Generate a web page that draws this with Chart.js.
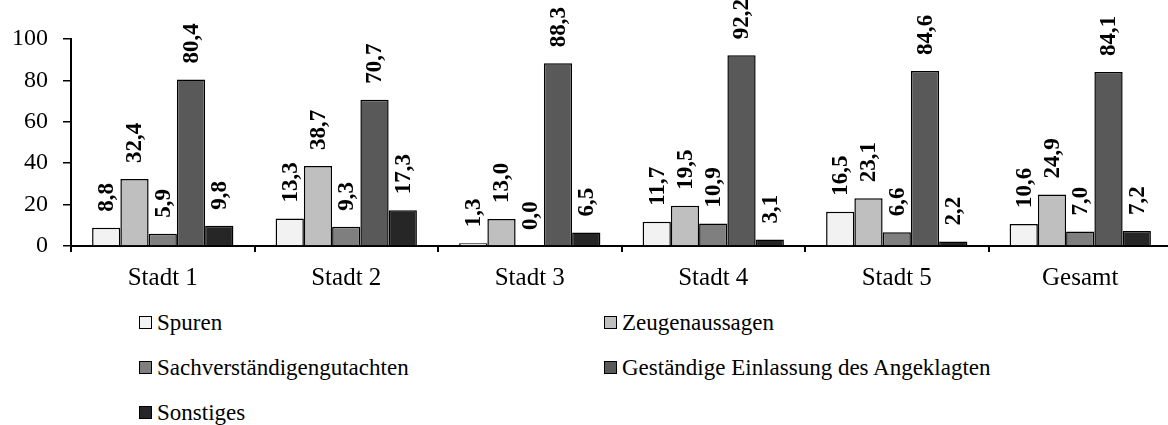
<!DOCTYPE html>
<html>
<head>
<meta charset="utf-8">
<script src="https://cdn.jsdelivr.net/npm/chart.js@4/dist/chart.umd.min.js"></script>
<style>
    html, body { margin: 0; padding: 0; background: #fff; overflow: hidden; }
    #wrap { position: relative; width: 1172px; height: 425px; }
    #chart { position: absolute; left: 0; top: 0; }
    .legend-item {
        position: absolute;
        display: flex;
        align-items: center;
        font-family: "Liberation Serif", "Times New Roman", serif;
        font-size: 23px;
        color: #000;
        white-space: nowrap;
        line-height: 1;
    }
    .legend-box {
        width: 11px;
        height: 11px;
        border: 1.5px solid #000;
        margin-right: 5px;
    }
</style>
</head>
<body>
<div id="wrap">
    <canvas id="chart" width="1172" height="290"></canvas>
    <div id="legend"></div>
</div>
<script>
const categories = ['Stadt 1', 'Stadt 2', 'Stadt 3', 'Stadt 4', 'Stadt 5', 'Gesamt'];

const spuren = [8.8, 13.3, 1.3, 11.7, 16.5, 10.6];
const zeugenaussagen = [32.4, 38.7, 13.0, 19.5, 23.1, 24.9];
const gutachten = [5.9, 9.3, 0.0, 10.9, 6.6, 7.0];
const einlassung = [80.4, 70.7, 88.3, 92.2, 84.6, 84.1];
const sonstiges = [9.8, 17.3, 6.5, 3.1, 2.2, 7.2];

const yTicks = [0, 20, 40, 60, 80, 100];

const serif = '"Liberation Serif", "Times New Roman", serif';

const series = [
    { label: 'Spuren', data: spuren, color: '#f2f2f2' },
    { label: 'Zeugenaussagen', data: zeugenaussagen, color: '#bfbfbf' },
    { label: 'Sachverständigengutachten', data: gutachten, color: '#7f7f7f' },
    { label: 'Geständige Einlassung des Angeklagten', data: einlassung, color: '#595959' },
    { label: 'Sonstiges', data: sonstiges, color: '#262626' }
];

// rotated value labels above each bar
const valueLabels = {
    id: 'valueLabels',
    afterDatasetsDraw(chart) {
        const ctx = chart.ctx;
        ctx.save();
        ctx.font = 'bold 23px ' + serif;
        ctx.fillStyle = '#000';
        ctx.textAlign = 'left';
        ctx.textBaseline = 'middle';
        chart.data.datasets.forEach((ds, i) => {
            chart.getDatasetMeta(i).data.forEach((bar, j) => {
                const text = ds.data[j].toFixed(1).replace('.', ',');
                ctx.save();
                ctx.translate(bar.x + 1, bar.y - 16);
                ctx.rotate(-Math.PI / 2);
                ctx.fillText(text, 0, 0);
                ctx.restore();
            });
        });
        ctx.restore();
    }
};

const chart = new Chart(document.getElementById('chart').getContext('2d'), {
    type: 'bar',
    data: {
        labels: categories,
        datasets: series.map(s => ({
            label: s.label,
            data: s.data,
            backgroundColor: s.color,
            borderColor: '#000',
            borderWidth: 1.5,
            categoryPercentage: 0.77,
            barPercentage: 1.0
        }))
    },
    options: {
        responsive: false,
        animation: false,
        devicePixelRatio: 1,
        layout: { padding: { top: 39, right: 0, bottom: 0, left: 0 } },
        plugins: {
            legend: { display: false },
            tooltip: { enabled: false }
        },
        scales: {
            x: {
                afterFit: scale => { scale.height = 44; },
                border: { color: '#000', width: 2 },
                grid: {
                    drawOnChartArea: false,
                    offset: true,
                    tickLength: 6,
                    color: '#000',
                    lineWidth: 2
                },
                ticks: {
                    color: '#000',
                    padding: 11,
                    font: { family: serif, size: 25 }
                }
            },
            y: {
                min: 0,
                max: 100,
                afterFit: scale => { scale.width = 71; },
                afterBuildTicks: scale => { scale.ticks = yTicks.map(v => ({ value: v })); },
                border: { color: '#000', width: 2 },
                grid: {
                    drawOnChartArea: false,
                    tickLength: 8,
                    color: '#000',
                    lineWidth: 1.5
                },
                ticks: {
                    color: '#000',
                    padding: 15,
                    font: { family: serif, size: 24 }
                }
            }
        }
    },
    plugins: [valueLabels]
});

// legend in two columns below the chart
function buildLegend() {
    const legend = document.getElementById('legend');
    const cols = [139, 604];
    const rows = [322, 367, 412];
    chart.data.datasets.forEach((ds, i) => {
        const item = document.createElement('div');
        item.className = 'legend-item';
        item.style.left = cols[i % 2] + 'px';
        item.style.top = (rows[Math.floor(i / 2)] - 12) + 'px';
        item.style.height = '24px';
        const box = document.createElement('span');
        box.className = 'legend-box';
        box.style.background = ds.backgroundColor;
        const label = document.createElement('span');
        label.textContent = ds.label;
        item.appendChild(box);
        item.appendChild(label);
        legend.appendChild(item);
    });
}

buildLegend();
</script>
</body>
</html>
